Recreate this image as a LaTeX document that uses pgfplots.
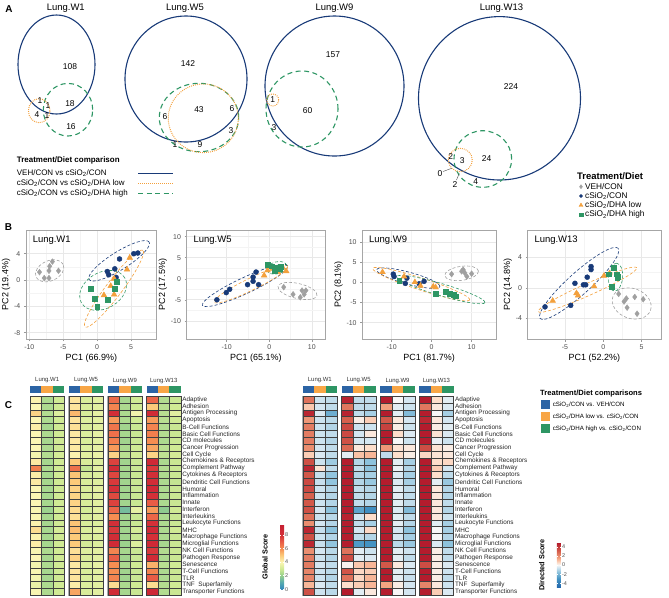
\documentclass[border=0pt]{standalone}
\usepackage{pgfplots}
\pgfplotsset{compat=1.18}
\usepackage{pgfplotstable}
\usepackage{fontspec}
\setmainfont{Liberation Sans}
\newcommand{\fs}[1]{\fontsize{#1}{#1}\selectfont}
\newcommand{\sio}{cSiO\textsubscript{2}}
\definecolor{navy}{RGB}{24,58,120}
\definecolor{vorange}{RGB}{243,160,60}
\definecolor{vgreen}{RGB}{46,150,100}
\definecolor{pgray}{RGB}{160,160,160}
\definecolor{hblue}{RGB}{44,100,165}
\definecolor{horange}{RGB}{248,166,70}
\definecolor{hgreen}{RGB}{46,150,100}
\definecolor{gridA}{RGB}{232,232,232}
\definecolor{gridB}{RGB}{244,244,244}
\definecolor{tickc}{RGB}{77,77,77}
\tikzset{ell/.style={dash pattern=on 3bp off 2bp, line width=0.6bp},
  vsolid/.style={draw=navy, line width=1.1bp},
  vdot/.style={draw=vorange, line width=1bp, dash pattern=on 0.9bp off 1.1bp},
  vdash/.style={draw=vgreen, line width=1.1bp, dash pattern=on 5bp off 3.5bp}}
\pgfdeclareplotmark{hcell}{\pgfpathrectangle{\pgfpoint{-5.715bp}{-3.436bp}}{\pgfpoint{11.43bp}{6.872bp}}\pgfusepathqfillstroke}
\pgfplotsset{
  colormap={glob}{rgb255(0)=(50,136,189) rgb255(10)=(85,170,175) rgb255(20)=(150,207,140) rgb255(30)=(208,234,148) rgb255(40)=(252,246,180) rgb255(50)=(252,202,122) rgb255(60)=(246,142,82) rgb255(70)=(232,92,70) rgb255(80)=(212,48,56) rgb255(96)=(196,30,50)},
  colormap={dirs}{rgb255(0)=(33,102,172) rgb255(19)=(67,147,195) rgb255(34)=(146,197,222) rgb255(44)=(212,230,241) rgb255(49)=(247,247,247) rgb255(54)=(253,222,203) rgb255(64)=(244,165,130) rgb255(79)=(214,96,77) rgb255(98)=(178,24,43)},
  pca/.style={scale only axis, anchor=north west, height=109.3bp,
    axis line style={draw=gray!70, line width=0.8bp},
    grid=both, major grid style={gridA, line width=0.6bp}, minor grid style={gridB, line width=0.35bp},
    minor tick num=1, minor tick style={draw=none}, tick pos=left,
    tick align=outside, major tick length=2.2bp, major tick style={gray!80, line width=0.5bp},
    tick label style={font=\fs{7}, text=tickc}, /pgf/number format/assume math mode=true,
    xlabel style={font=\fs{9}, yshift=3bp}, ylabel style={font=\fs{9}, yshift=-3bp}},
  pgr/.style={only marks, mark=diamond*, mark size=2.9bp, color=pgray},
  pbl/.style={only marks, mark=*, mark size=2.5bp, color=navy},
  por/.style={only marks, mark=triangle*, mark size=3.3bp, color=vorange},
  pgn/.style={only marks, mark=square*, mark size=2.4bp, color=vgreen},
  hm/.style={anchor=north west, x=11.43bp, y=6.872bp, y dir=reverse, xmin=-0.5, xmax=12.7, ymin=0.5, ymax=29.5,
    axis line style={draw=none}, xtick=\empty, ytick={1,...,29},
    yticklabels={Adaptive,Adhesion,Antigen Processing,Apoptosis,B-Cell Functions,Basic Cell Functions,CD molecules,Cancer Progression,Cell Cycle,Chemokines \& Receptors,Complement Pathway,Cytokines \& Receptors,Dendritic Cell Functions,Humoral,Inflammation,Innate,Interferon,Interleukins,Leukocyte Functions,MHC,Macrophage Functions,Microglial Functions,NK Cell Functions,Pathogen Response,Senescence,T-Cell Functions,TLR,TNF\ \ Superfamily,Transporter Functions},
    yticklabel pos=right, major tick length=0pt, ytick style={draw=none},
    yticklabel style={font=\fs{6.4}, text=black!85, inner sep=0pt, xshift=1.3bp}, clip=false},
  hc/.style={scatter, only marks, mark=hcell, point meta=explicit, scatter/use mapped color={draw=black!75, fill=mapped color}, mark options={line width=0.4bp}},
}
\newcommand{\hgroup}[6]{%
  \fill[hblue] (axis cs:#1,-0.955) rectangle (axis cs:#2,0.02);
  \fill[horange] (axis cs:#2,-0.955) rectangle (axis cs:#3,0.02);
  \fill[hgreen] (axis cs:#3,-0.955) rectangle (axis cs:#4,0.02);
  \draw[gray!65, line width=0.8bp] (axis cs:#1,0.5) rectangle (axis cs:#4,29.5);
  \node[font=\fs{6}, text=black!80] at (axis cs:#5,-1.75) {#6};}

\pgfplotstableread{
r a1 a2 a3 b1 b2 b3 c1 c2 c3 d1 d2 d3
1 4.1 2.4 3.0 4.4 3.2 3.4 6.7 2.3 3.0 6.8 2.5 2.9
2 4.0 2.4 3.0 4.4 3.2 3.4 6.2 2.4 3.0 5.0 2.6 3.0
3 4.8 2.5 3.3 5.3 3.2 3.5 8.2 2.4 3.8 8.4 2.6 3.4
4 4.0 2.4 3.0 4.4 3.3 3.4 5.8 2.4 3.0 5.8 2.6 3.0
5 4.2 2.3 3.0 4.5 3.2 3.4 6.5 2.2 2.9 6.2 2.5 2.9
6 4.0 2.4 3.0 4.3 3.3 3.5 6.6 2.3 2.9 6.3 2.5 2.9
7 4.0 2.3 3.0 4.3 3.2 3.4 6.3 2.2 2.9 6.0 2.4 2.9
8 4.0 2.4 3.0 4.3 3.3 3.5 5.8 2.4 3.0 5.6 2.6 3.0
9 3.8 2.5 3.1 4.1 3.4 3.6 4.8 2.6 3.1 4.8 2.7 3.1
10 4.3 2.3 3.0 5.0 3.2 3.3 7.6 2.2 2.9 8.6 2.4 2.9
11 6.3 2.4 3.0 6.6 2.8 3.4 8.4 2.3 2.9 7.8 2.5 2.9
12 4.2 2.3 3.0 5.1 3.2 3.3 7.5 2.2 2.9 8.2 2.4 2.9
13 4.3 2.3 3.0 5.0 3.2 3.3 7.8 2.2 2.9 8.3 2.4 2.8
14 4.0 2.3 3.0 4.8 3.2 3.4 8.1 2.2 2.9 8.6 2.4 2.9
15 4.0 2.3 3.0 4.8 3.2 3.4 7.4 2.2 2.9 8.0 2.4 2.9
16 4.0 2.3 3.0 4.8 3.2 3.4 7.6 2.2 2.9 7.0 2.4 2.9
17 3.9 2.1 3.0 4.6 3.1 3.4 6.8 1.5 3.5 5.8 1.9 3.0
18 3.9 2.3 3.0 4.5 3.2 3.4 6.0 2.2 2.9 6.8 2.4 2.9
19 4.1 2.3 3.0 5.1 3.2 3.3 8.1 2.2 2.9 8.0 2.4 2.9
20 4.6 2.3 3.1 5.2 3.2 3.4 7.8 2.2 3.1 8.6 2.4 3.0
21 4.1 2.3 3.0 5.0 3.2 3.3 8.3 2.2 2.9 8.0 2.4 2.9
22 4.2 2.3 3.0 5.0 3.1 3.3 8.5 2.1 3.3 8.6 2.3 2.9
23 3.9 2.4 3.0 4.5 3.3 3.4 6.2 2.3 2.9 7.8 2.5 2.9
24 4.0 2.3 3.0 4.8 3.2 3.4 7.0 2.2 2.9 8.4 2.4 2.9
25 3.8 2.4 3.0 4.3 3.3 3.5 6.0 2.4 3.0 5.4 2.6 3.0
26 3.9 2.3 3.0 4.4 3.2 3.4 6.0 2.2 2.9 6.2 2.4 2.9
27 3.8 2.3 3.0 4.4 3.2 3.4 6.2 2.2 2.9 7.0 2.4 2.9
28 3.6 2.4 3.0 4.2 3.3 3.4 4.6 2.4 3.0 4.6 2.5 3.0
29 3.9 2.4 3.0 5.6 3.2 3.4 8.4 2.3 2.9 8.8 2.5 2.9
}\hmglob

\pgfplotstableread{
r a1 a2 a3 b1 b2 b3 c1 c2 c3 d1 d2 d3
1 2.6 -0.6 -0.8 4.6 -0.8 -0.8 4.8 0.0 -0.5 4.8 0.5 -0.3
2 0.9 -0.5 -0.8 2.5 -0.8 -0.8 1.6 -0.3 -0.6 2.5 0.3 -0.4
3 4.5 -0.4 -2.2 4.6 -0.8 -1.2 4.8 -0.3 -1.8 4.8 0.0 -1.2
4 1.8 -0.6 -0.9 3.0 0.2 0.8 3.2 0.3 -0.5 4.5 0.3 -0.5
5 2.4 -0.6 -1.0 3.6 -0.6 -0.6 3.8 0.2 -0.6 4.8 0.2 -0.3
6 2.4 -0.6 -0.8 3.6 -0.5 0.3 4.8 0.5 -0.4 4.8 0.4 -0.4
7 2.4 -0.6 -1.0 3.4 -0.5 -0.5 4.8 0.0 -0.6 4.8 -0.2 -0.6
8 2.0 -0.5 -0.8 2.8 0.3 0.5 1.8 0.4 0.3 3.5 0.4 0.2
9 0.8 -0.4 -0.8 -0.3 1.0 1.2 -0.8 0.5 0.2 0.6 0.4 0.3
10 3.4 -0.6 -1.3 4.8 -1.0 -1.6 4.8 -0.3 -1.2 4.8 0.5 0.6
11 4.5 0.4 -0.8 4.8 -0.8 -1.6 4.8 -0.2 -1.0 4.8 0.8 -0.5
12 3.2 -0.7 -1.5 4.8 -1.0 -1.2 4.8 -0.4 -1.2 4.8 0.5 -0.8
13 3.6 -0.7 -1.5 4.8 -1.0 -1.4 4.8 -0.4 -1.2 4.8 -0.3 -1.4
14 3.6 -0.6 -1.0 4.8 -0.8 -1.0 4.8 -0.3 -0.8 4.8 0.3 -1.0
15 3.0 -0.6 -1.0 4.8 -0.8 -1.0 4.8 -0.3 -0.8 4.8 0.3 -1.0
16 3.2 -0.6 -1.0 4.8 -0.8 -1.0 4.8 -0.3 -0.8 4.8 0.3 -0.8
17 3.4 -0.5 -1.6 4.8 -2.5 -3.2 4.8 -0.4 -1.8 4.8 0.3 -1.0
18 2.6 -0.6 -0.9 4.6 -0.5 0.5 4.8 -0.3 -0.8 4.8 0.3 -0.6
19 2.0 -0.5 -1.0 4.8 -0.8 -1.2 4.8 -0.3 -1.0 4.8 -0.3 -1.2
20 4.5 -0.7 -1.6 4.8 -0.5 0.6 4.8 -0.5 -1.6 4.8 0.0 -1.2
21 3.4 -0.6 -1.0 4.8 -0.8 -1.0 4.8 -0.5 -1.2 4.8 0.0 -1.0
22 4.5 -0.7 -1.5 4.8 -2.8 -3.0 4.8 -0.9 -1.4 4.8 -0.4 -1.6
23 2.0 -0.5 -0.9 2.6 -0.3 -0.6 4.8 -0.3 -0.6 4.8 0.2 -0.8
24 2.4 -0.6 -1.0 3.5 -0.3 -0.4 4.8 -0.3 -0.8 4.8 0.2 -0.8
25 2.4 -0.5 -0.8 0.1 0.9 1.2 3.2 0.3 -0.4 3.5 0.2 -0.4
26 2.2 -0.6 -0.9 3.3 0.6 0.8 4.8 -0.3 -0.6 4.8 0.2 -0.6
27 2.2 -0.6 -1.0 2.6 0.6 1.2 4.8 -0.3 -0.7 4.8 0.2 -0.8
28 1.2 -0.4 -0.8 0.5 0.8 1.2 1.5 0.2 -0.5 2.2 0.3 -0.6
29 3.4 -0.6 -0.9 4.8 -0.3 0.3 4.8 0.0 -0.5 4.8 0.8 -0.4
}\hmdir

\begin{document}
\begin{tikzpicture}
\useasboundingbox (0,0) rectangle (669bp,-598bp);
% ---------------- overlay: panel A, legends, letters
\begin{axis}[at={(0bp,0bp)}, anchor=north west, x=1bp, y=1bp, y dir=reverse,
  xmin=0, xmax=669, ymin=0, ymax=598, hide axis, clip=false]
\node[font=\fs{10}\bfseries] at (axis cs:9,9) {A};
\node[font=\fs{10}\bfseries] at (axis cs:8.5,227) {B};
\node[font=\fs{10}\bfseries] at (axis cs:8.5,405) {C};
% titles
\node[font=\fs{9.5}] at (axis cs:65.8,8.5) {Lung.W1};
\node[font=\fs{9.5}] at (axis cs:185,8.5) {Lung.W5};
\node[font=\fs{9.5}] at (axis cs:334.5,8.5) {Lung.W9};
\node[font=\fs{9.5}] at (axis cs:501.5,8.5) {Lung.W13};
% W1
\draw[vsolid] (axis cs:56.5,64.5) ellipse [x radius=38.5bp, y radius=49.5bp];
\draw[vdash] (axis cs:68,109.7) ellipse [x radius=24.7bp, y radius=26.3bp];
\draw[vdot] (axis cs:39.2,110.7) ellipse [x radius=10.8bp, y radius=12bp];
% W5
\draw[vsolid] (axis cs:186,79) ellipse [x radius=61bp, y radius=63bp];
\draw[vdash] (axis cs:199,117.5) ellipse [x radius=39.7bp, y radius=34.2bp];
\draw[vdot] (axis cs:203.3,118.3) ellipse [x radius=35bp, y radius=34.3bp];
% W9
\draw[vsolid] (axis cs:334.5,86) ellipse [x radius=69.5bp, y radius=70bp];
\draw[vdash] (axis cs:302,109) ellipse [x radius=36bp, y radius=38bp];
\draw[vdot] (axis cs:272.7,100) ellipse [x radius=6bp, y radius=6bp];
% W13
\draw[vsolid] (axis cs:499.5,98.3) ellipse [x radius=81bp, y radius=81.7bp];
\draw[vdash] (axis cs:482.8,159) ellipse [x radius=28.8bp, y radius=28.3bp];
\draw[vdot] (axis cs:460.3,160) ellipse [x radius=12bp, y radius=11.7bp];
% numbers
\begin{scope}[every node/.style={font=\fs{8.5}}]
\node at (axis cs:70,67) {108};
\node at (axis cs:70,104) {18};
\node at (axis cs:71,127) {16};
\node at (axis cs:40,101) {1};
\node at (axis cs:48,106) {1};
\node at (axis cs:37,115) {4};
\node at (axis cs:47,116) {1};
\node at (axis cs:188,64) {142};
\node at (axis cs:199,110) {43};
\node at (axis cs:165,117) {6};
\node at (axis cs:232,109) {6};
\node at (axis cs:231,131) {3};
\node at (axis cs:175,145) {1};
\node at (axis cs:200,145) {9};
\node at (axis cs:333,55) {157};
\node at (axis cs:272.7,100) {1};
\node at (axis cs:307.7,111) {60};
\node at (axis cs:274,128) {3};
\node at (axis cs:511,86.7) {224};
\node at (axis cs:486.7,158.3) {24};
\node at (axis cs:462.3,160.7) {3};
\node at (axis cs:450.7,156.7) {2};
\node at (axis cs:440,174) {0};
\node at (axis cs:455,184.3) {2};
\node at (axis cs:475.7,182) {4};
\end{scope}
\draw[black!70, line width=0.4bp] (axis cs:443,171.5) -- (axis cs:451.7,168.3);
\draw[black!70, line width=0.4bp] (axis cs:456.5,180) -- (axis cs:459.3,173.3);
% legend A
\node[anchor=west, font=\fs{8}\bfseries, inner sep=0pt] at (axis cs:16.7,160.7) {Treatment/Diet comparison};
\node[anchor=west, font=\fs{8}, inner sep=0pt] at (axis cs:16.7,173.3) {VEH/CON vs \sio/CON};
\node[anchor=west, font=\fs{8}, inner sep=0pt] at (axis cs:16.7,183.3) {\sio/CON vs \sio/DHA low};
\node[anchor=west, font=\fs{8}, inner sep=0pt] at (axis cs:16.7,193.3) {\sio/CON vs \sio/DHA high};
\draw[vsolid] (axis cs:138,173.3) -- (axis cs:173,173.3);
\draw[vdot] (axis cs:138,183.3) -- (axis cs:173,183.3);
\draw[vdash] (axis cs:138,193.3) -- (axis cs:173,193.3);
% legend B
\node[anchor=west, font=\fs{9.5}\bfseries, inner sep=0pt] at (axis cs:577,176.5) {Treatment/Diet};
\addplot[only marks, mark=diamond*, mark size=2bp, pgray] coordinates {(581,186.7)};
\addplot[only marks, mark=*, mark size=1.7bp, navy] coordinates {(581,196)};
\addplot[only marks, mark=triangle*, mark size=2.3bp, vorange] coordinates {(581,205.3)};
\addplot[only marks, mark=square*, mark size=1.8bp, vgreen] coordinates {(581,214.7)};
\node[anchor=west, font=\fs{8.3}, inner sep=0pt] at (axis cs:585,186.7) {VEH/CON};
\node[anchor=west, font=\fs{8.3}, inner sep=0pt] at (axis cs:585,196) {\sio/CON};
\node[anchor=west, font=\fs{8.3}, inner sep=0pt] at (axis cs:585,205.3) {\sio/DHA low};
\node[anchor=west, font=\fs{8.3}, inner sep=0pt] at (axis cs:585,214.7) {\sio/DHA high};
% legend C
\node[anchor=west, font=\fs{7.6}\bfseries, inner sep=0pt] at (axis cs:540,394) {Treatment/Diet comparisons};
\fill[hblue] (axis cs:540.7,400) rectangle (axis cs:550,409.3);
\fill[horange] (axis cs:540.7,412) rectangle (axis cs:550,421.3);
\fill[hgreen] (axis cs:540.7,424) rectangle (axis cs:550,433.3);
\node[anchor=west, font=\fs{6.2}, inner sep=0pt] at (axis cs:552.7,404.7) {\sio/CON vs. VEH/CON};
\node[anchor=west, font=\fs{6.2}, inner sep=0pt] at (axis cs:552.7,416.7) {\sio/DHA low vs. \sio/CON};
\node[anchor=west, font=\fs{6.2}, inner sep=0pt] at (axis cs:552.7,428.7) {\sio/DHA high vs. \sio/CON};
% colorbar titles
\node[rotate=90, font=\fs{7.3}\bfseries] at (axis cs:265,557) {Global Score};
\node[rotate=90, font=\fs{7.3}\bfseries] at (axis cs:541.7,565) {Directed Score};
\end{axis}

% ---------------- PCA W1
\begin{axis}[pca, at={(26bp,-230bp)}, width=130.7bp, xmin=-10.49, xmax=8.78, ymin=-9.0, ymax=7.6,
  xtick={-10,-5,0,5}, ytick={-8,-4,0,4}, xlabel={PC1 (66.9\%)}, ylabel={PC2 (19.4\%)}]
\addplot[pgr] coordinates {(-6.6,2.8) (-7.0,2.1) (-8.5,1.2) (-7.1,1.4) (-5.7,1.4) (-7.8,0.3) (-7.1,0.3)};
\addplot[pbl] coordinates {(3.3,3.2) (5.4,4.0) (6.0,4.1) (1.5,1.3) (2.6,1.7) (2.8,0.4) (1.7,0.8)};
\addplot[por] coordinates {(4.8,3.4) (4.4,1.6) (2.5,0.2) (1.0,-2.3) (2.5,-2.2) (2.0,-0.9)};
\addplot[pgn] coordinates {(-0.9,-1.3) (-0.4,-2.8) (0.0,-4.1) (1.5,-3.0) (2.6,-1.3) (2.9,-0.3)};
\draw[ell, pgray] (axis cs:-7.0,1.4) ellipse [x radius=15bp, y radius=10bp, rotate=25];
\draw[ell, navy] (axis cs:3.24,2.92) ellipse [x radius=35.4bp, y radius=9bp, rotate=32];
\draw[ell, vorange] (axis cs:2.48,-1.31) ellipse [x radius=48bp, y radius=8bp, rotate=53];
\draw[ell, vgreen] (axis cs:0.88,-1.57) ellipse [x radius=25bp, y radius=18bp, rotate=30];
\node[anchor=north west, font=\fs{9.5}] at (rel axis cs:0.025,0.975) {Lung.W1};
\end{axis}

% ---------------- PCA W5
\begin{axis}[pca, at={(186.7bp,-230bp)}, width=138.3bp, xmin=-19.4, xmax=13.1, ymin=-14.4, ymax=11.6,
  xtick={-10,0,10}, ytick={-10,-5,0,5,10}, xlabel={PC1 (65.1\%)}, ylabel={PC2 (17.5\%)}]
\addplot[pgr] coordinates {(3.4,-2.0) (5.6,-3.7) (7.3,-4.4) (7.7,-2.8) (8.6,-2.8) (8.2,-3.7)};
\addplot[pbl] coordinates {(-12.3,-5.0) (-10.1,-3.3) (-9.3,-2.5) (-5.1,-1.4) (-3.8,-0.6) (-2.5,-1.4) (-3.1,1.6) (-3.8,0.4)};
\addplot[por] coordinates {(-1.2,0.8) (-0.4,2.0) (0.8,2.4) (3.2,2.6) (4.0,1.8) (2.0,1.6) (0.0,2.9)};
\addplot[pgn] coordinates {(-0.4,3.3) (0.6,3.0) (1.6,2.6) (2.4,2.4) (2.6,2.9) (1.2,2.0)};
\draw[ell, pgray] (axis cs:6.64,-2.9) ellipse [x radius=20bp, y radius=7.5bp, rotate=-13];
\draw[ell, navy] (axis cs:-5.67,-1.6) ellipse [x radius=47bp, y radius=8bp, rotate=25];
\draw[ell, vorange] (axis cs:-4.3,-1.3) ellipse [x radius=41bp, y radius=6bp, rotate=26];
\draw[ell, vgreen] (axis cs:1.8,2.6) ellipse [x radius=10bp, y radius=6bp, rotate=15];
\node[anchor=north west, font=\fs{9.5}] at (rel axis cs:0.025,0.975) {Lung.W5};
\end{axis}

% ---------------- PCA W9
\begin{axis}[pca, at={(362.3bp,-230bp)}, width=133.7bp, xmin=-17.35, xmax=16.1, ymin=-14.15, ymax=13.1,
  xtick={-10,0,10}, ytick={-10,-5,0,5,10}, xlabel={PC1 (81.7\%)}, ylabel={PC2 (8.1\%)}]
\addplot[pgr] coordinates {(5.0,2.1) (7.5,2.8) (7.9,3.2) (8.3,2.4) (10.0,2.2) (8.8,1.5)};
\addplot[pbl] coordinates {(-9.6,2.1) (-9.4,1.5) (-6.2,1.1) (-6.6,-0.2) (-3.1,-0.3) (-1.9,0.3)};
\addplot[por] coordinates {(-12.3,2.6) (-6.9,1.5) (-4.2,0.1) (-2.8,-0.8) (0.4,-1.0) (1.0,-1.2)};
\addplot[pgn] coordinates {(-8.1,0.5) (1.1,-2.7) (3.6,-2.3) (4.6,-2.7) (5.6,-3.0) (6.1,-3.4)};
\draw[ell, pgray] (axis cs:7.5,2.3) ellipse [x radius=17bp, y radius=7bp, rotate=8];
\draw[ell, navy] (axis cs:-5.85,1.1) ellipse [x radius=32.7bp, y radius=6bp, rotate=-15];
\draw[ell, vorange] (axis cs:-2.6,-0.4) ellipse [x radius=51bp, y radius=6bp, rotate=-18];
\draw[ell, vgreen] (axis cs:2.3,-1.75) ellipse [x radius=46bp, y radius=6bp, rotate=-16.4];
\node[anchor=north west, font=\fs{9.5}] at (rel axis cs:0.025,0.975) {Lung.W9};
\end{axis}

% ---------------- PCA W13
\begin{axis}[pca, at={(527.7bp,-230bp)}, width=133.3bp, xmin=-9.86, xmax=7.52, ymin=-6.76, ymax=7.6,
  xtick={-5,0,5}, ytick={-4,0,4}, xlabel={PC1 (52.2\%)}, ylabel={PC2 (14.8\%)}]
\addplot[pgr] coordinates {(2.0,-0.8) (2.7,-1.8) (3.0,-1.4) (3.1,-2.6) (4.1,-1.2) (4.4,-3.4) (5.2,-1.5)};
\addplot[pbl] coordinates {(-7.6,-2.5) (-4.25,-2.3) (-3.7,0.6) (-2.6,0.4) (-2.3,0.4) (-2.1,1.4) (-1.6,2.8) (-1.6,2.4)};
\addplot[por] coordinates {(-6.6,-1.7) (-3.5,-0.7) (-3.3,-1.0) (-1.2,0.2) (0.1,1.6) (0.8,1.9)};
\addplot[pgn] coordinates {(0.7,1.8) (1.4,2.7) (1.1,0.1) (1.8,1.3) (1.7,1.8) (1.9,1.5)};
\draw[ell, pgray] (axis cs:3.7,-2.05) ellipse [x radius=20bp, y radius=15bp, rotate=-20];
\draw[ell, navy] (axis cs:-3.15,0.58) ellipse [x radius=52.5bp, y radius=11bp, rotate=42];
\draw[ell, vorange] (axis cs:-2.06,-0.24) ellipse [x radius=54bp, y radius=6bp, rotate=24];
\draw[ell, vgreen] (axis cs:1.6,1.4) ellipse [x radius=14bp, y radius=7bp, rotate=85];
\node[anchor=north west, font=\fs{9.5}] at (rel axis cs:0.025,0.975) {Lung.W13};
\end{axis}

% ---------------- Heatmap Global
\begin{axis}[hm, at={(30bp,-396bp)}, colormap name=glob, point meta min=0, point meta max=9.6]
\addplot[hc] table[x expr=0, y=r, meta=a1] {\hmglob};
\addplot[hc] table[x expr=1, y=r, meta=a2] {\hmglob};
\addplot[hc] table[x expr=2, y=r, meta=a3] {\hmglob};
\addplot[hc] table[x expr=3.4, y=r, meta=b1] {\hmglob};
\addplot[hc] table[x expr=4.4, y=r, meta=b2] {\hmglob};
\addplot[hc] table[x expr=5.4, y=r, meta=b3] {\hmglob};
\addplot[hc] table[x expr=6.8, y=r, meta=c1] {\hmglob};
\addplot[hc] table[x expr=7.8, y=r, meta=c2] {\hmglob};
\addplot[hc] table[x expr=8.8, y=r, meta=c3] {\hmglob};
\addplot[hc] table[x expr=10.2, y=r, meta=d1] {\hmglob};
\addplot[hc] table[x expr=11.2, y=r, meta=d2] {\hmglob};
\addplot[hc] table[x expr=12.2, y=r, meta=d3] {\hmglob};
\hgroup{-0.5}{0.5}{1.5}{2.5}{1}{Lung.W1}
\hgroup{2.9}{3.9}{4.9}{5.9}{4.4}{Lung.W5}
\hgroup{6.3}{7.3}{8.3}{9.3}{7.8}{Lung.W9}
\hgroup{9.7}{10.7}{11.7}{12.7}{11.2}{Lung.W13}
\end{axis}

% ---------------- Heatmap Directed
\begin{axis}[hm, at={(302.7bp,-396bp)}, colormap name=dirs, point meta min=-4.9, point meta max=4.9]
\addplot[hc] table[x expr=0, y=r, meta=a1] {\hmdir};
\addplot[hc] table[x expr=1, y=r, meta=a2] {\hmdir};
\addplot[hc] table[x expr=2, y=r, meta=a3] {\hmdir};
\addplot[hc] table[x expr=3.4, y=r, meta=b1] {\hmdir};
\addplot[hc] table[x expr=4.4, y=r, meta=b2] {\hmdir};
\addplot[hc] table[x expr=5.4, y=r, meta=b3] {\hmdir};
\addplot[hc] table[x expr=6.8, y=r, meta=c1] {\hmdir};
\addplot[hc] table[x expr=7.8, y=r, meta=c2] {\hmdir};
\addplot[hc] table[x expr=8.8, y=r, meta=c3] {\hmdir};
\addplot[hc] table[x expr=10.2, y=r, meta=d1] {\hmdir};
\addplot[hc] table[x expr=11.2, y=r, meta=d2] {\hmdir};
\addplot[hc] table[x expr=12.2, y=r, meta=d3] {\hmdir};
\hgroup{-0.5}{0.5}{1.5}{2.5}{1}{Lung.W1}
\hgroup{2.9}{3.9}{4.9}{5.9}{4.4}{Lung.W5}
\hgroup{6.3}{7.3}{8.3}{9.3}{7.8}{Lung.W9}
\hgroup{9.7}{10.7}{11.7}{12.7}{11.2}{Lung.W13}
\end{axis}

% ---------------- colorbars
\begin{axis}[at={(0bp,-700bp)}, anchor=north west, scale only axis, width=1bp, height=1bp, hide axis,
  xmin=0, xmax=1, ymin=0, ymax=1, colormap name=glob, point meta min=0, point meta max=9.6,
  colorbar, colorbar style={at={(271.7bp,-524bp)}, anchor=north west, scale only axis, width=3.8bp, height=65.3bp,
    ytick={0,2,4,6,8}, yticklabel style={font=\fs{5.5}, text=tickc, inner sep=1bp},
    major tick length=1.2bp, tick style={white, line width=0.4bp}, axis line style={draw=none},
    /pgf/number format/assume math mode=true}]
\end{axis}
\begin{axis}[at={(0bp,-700bp)}, anchor=north west, scale only axis, width=1bp, height=1bp, hide axis,
  xmin=0, xmax=1, ymin=0, ymax=1, colormap name=dirs, point meta min=-4.9, point meta max=4.9,
  colorbar, colorbar style={at={(548.3bp,-542.7bp)}, anchor=north west, scale only axis, width=4bp, height=44.6bp,
    ytick={-4,-2,0,2,4}, yticklabel style={font=\fs{5.5}, text=tickc, inner sep=1bp},
    major tick length=1.2bp, tick style={white, line width=0.4bp}, axis line style={draw=none},
    /pgf/number format/assume math mode=true}]
\end{axis}
\end{tikzpicture}
\end{document}
